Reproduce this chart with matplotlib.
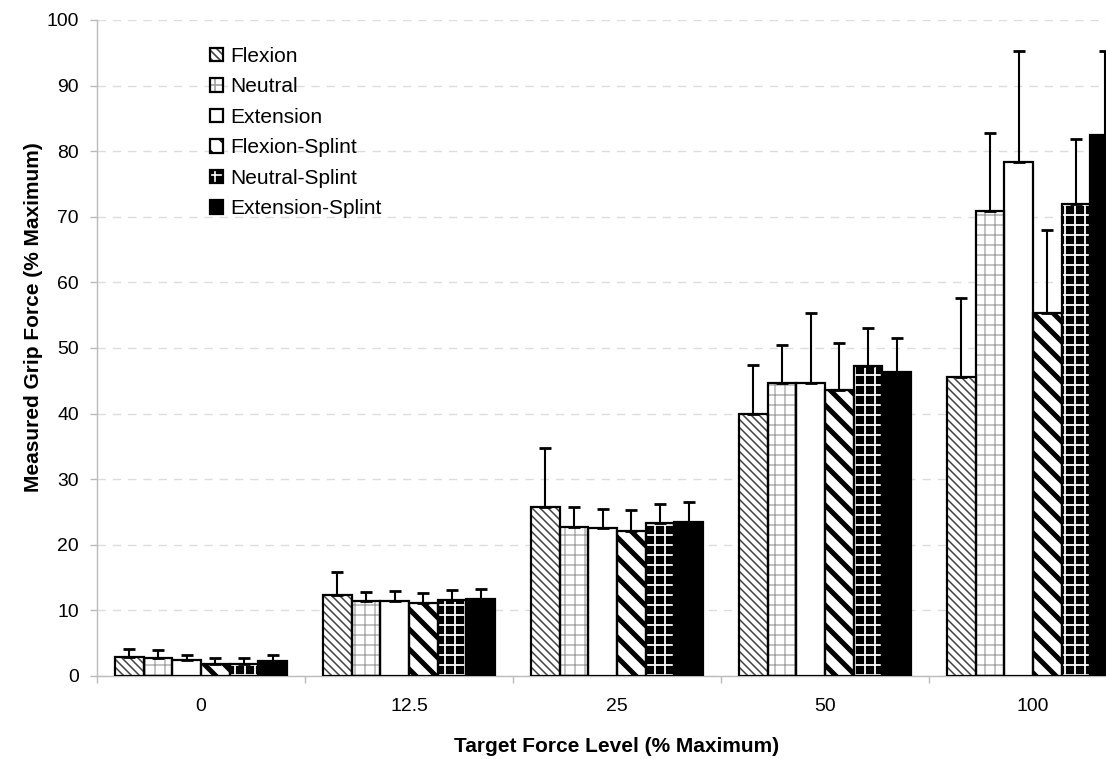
import matplotlib
matplotlib.use("Agg")
import matplotlib.pyplot as plt
import numpy as np
from matplotlib.patches import Patch
from matplotlib.legend_handler import HandlerTuple

plt.rcParams['font.family'] = ['Liberation Sans', 'DejaVu Sans']

categories = ["0", "12.5", "25", "50", "100"]
series = ["Flexion", "Neutral", "Extension", "Flexion-Splint", "Neutral-Splint", "Extension-Splint"]
flexion = [2.9, 12.3, 25.7, 40.0, 45.6]
neutral = [2.7, 11.5, 22.7, 44.7, 70.9]
extension = [2.4, 11.5, 22.5, 44.6, 78.4]
flexion_splint = [1.8, 11.2, 22.1, 43.6, 55.3]
neutral_splint = [1.9, 11.6, 23.3, 47.3, 71.9]
extension_splint = [2.3, 11.8, 23.5, 46.3, 82.5]
flexion_err = [1.2, 3.5, 9.1, 7.4, 12.0]
neutral_err = [1.2, 1.3, 3.1, 5.8, 11.9]
extension_err = [0.8, 1.5, 3.0, 10.7, 16.8]
flexion_splint_err = [0.9, 1.5, 3.2, 7.1, 12.7]
neutral_splint_err = [0.8, 1.5, 2.9, 5.7, 10.0]
extension_splint_err = [0.9, 1.4, 3.0, 5.3, 12.8]

values = [flexion, neutral, extension, flexion_splint, neutral_splint, extension_splint]
errors = [flexion_err, neutral_err, extension_err, flexion_splint_err, neutral_splint_err, extension_splint_err]

DPI = 120
S = 100 / DPI  # sizes below are given as "points at 100 dpi"

# style: (facecolor, hatch, hatchcolor, hatch linewidth)
styles = [
    ("white", "\\\\\\\\\\", "#444444", 1.1),
    ("white", "++", "#a0a0a0", 0.9),
    ("white", None, "black", 1.0),
    ("white", "\\\\", "black", 3.6),
    ("black", "++", "white", 1.3),
    ("black", None, "black", 1.0),
]

fig = plt.figure(figsize=(1106 / DPI, 759 / DPI), dpi=DPI)
ax = fig.add_axes([97/1106, 83/759, 1040/1106, 656/759])

x = np.arange(len(categories))
w = 0.138
handles = []
for i, (vals, errs, st) in enumerate(zip(values, errors, styles)):
    fc, hatch, hc, hlw = st
    pos = x + (i - 2.5) * w
    with plt.rc_context({'hatch.linewidth': hlw * S}):
        b = ax.bar(pos, vals, w, color=fc, edgecolor=hc, hatch=hatch, linewidth=0, zorder=2)
        for p in b:
            if hasattr(p, 'set_hatch_linewidth'):
                p.set_hatch_linewidth(hlw * S)
        ph = Patch(facecolor=fc, edgecolor=hc, hatch=hatch, linewidth=0)
        if hasattr(ph, 'set_hatch_linewidth'):
            ph.set_hatch_linewidth(hlw * S)
    ax.bar(pos, vals, w, fill=False, edgecolor="black", linewidth=1.6 * S, zorder=3)
    ax.errorbar(pos, vals, yerr=[np.zeros(len(errs)), errs], fmt="none",
                ecolor="black", elinewidth=1.5 * S, capsize=4 * S, capthick=2.0 * S, zorder=4)
    po = Patch(facecolor="none", edgecolor="black", linewidth=1.6 * S)
    handles.append((ph, po))

ax.set_xlim(-0.5, 4.5)
ax.set_ylim(0, 100)
ax.set_yticks(np.arange(0, 101, 10))
ax.set_xticks(x)
ax.set_xticklabels(categories)
ax.set_xticks(np.arange(-0.5, 4.6, 1), minor=True)
ax.tick_params(axis='x', which='major', length=0, pad=16 * S, labelsize=14 * S)
ax.tick_params(axis='x', which='minor', length=5 * S, width=1 * S, color='#bbbbbb', direction='out')
ax.tick_params(axis='y', length=5 * S, width=1 * S, color='#bbbbbb', labelsize=14 * S, pad=8 * S)
for s in ['top', 'right']:
    ax.spines[s].set_visible(False)
for s in ['left', 'bottom']:
    ax.spines[s].set_color('#bbbbbb')
    ax.spines[s].set_linewidth(1.0 * S)
ax.yaxis.grid(True, linestyle=(0, (6, 5)), color='#dddddd', linewidth=1.0 * S, zorder=0)
ax.set_axisbelow(True)

fig.text(617/1106, 1 - 747/759, "Target Force Level (% Maximum)", ha='center', va='center',
         fontsize=15 * S, fontweight='bold')
fig.text(34/1106, 1 - 317/759, "Measured Grip Force (% Maximum)", ha='center', va='center',
         rotation=90, fontsize=15 * S, fontweight='bold')

leg = ax.legend(handles, series, handler_map={tuple: HandlerTuple(ndivide=1)},
                loc='upper left', bbox_to_anchor=(210/1106, 1 - 47/759),
                bbox_transform=fig.transFigure, frameon=False, fontsize=15 * S,
                borderpad=0, borderaxespad=0,
                handlelength=0.63, handleheight=0.63, handletextpad=0.33, labelspacing=0.55)

fig.savefig("out.png", dpi=DPI)
